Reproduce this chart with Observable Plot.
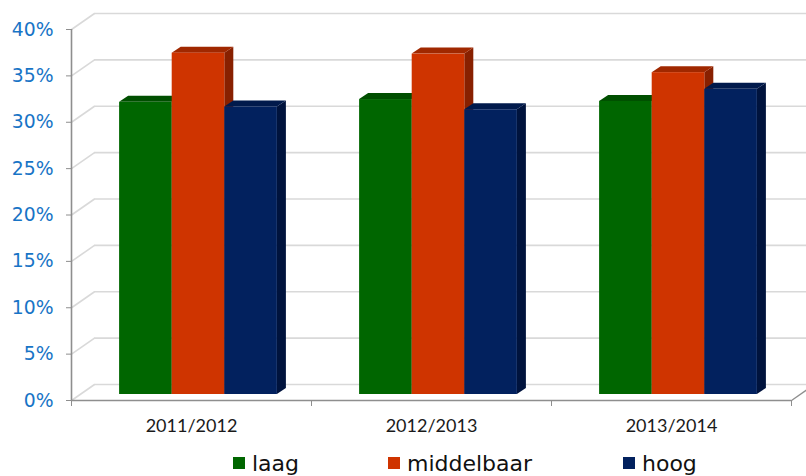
<!DOCTYPE html>
<html>
<head>
<meta charset="utf-8">
<script src="https://cdn.jsdelivr.net/npm/d3@7"></script>
<script src="https://cdn.jsdelivr.net/npm/@observablehq/plot@0.6"></script>
<style>
  html, body { margin: 0; padding: 0; background: #fff; }
  #chart { width: 806px; }
  #legend { position: relative; height: 36px; width: 806px; font-family: "DejaVu Sans", Verdana, sans-serif; font-size: 22px; color: #111; }
  #legend .item { position: absolute; top: 0; display: flex; align-items: center; height: 36px; padding-top: 10px; box-sizing: border-box; }
  #legend .sw { width: 12px; height: 12px; margin-right: 7px; }
</style>
</head>
<body>
<div id="chart"></div>
<div id="legend"></div>
<script>
// ---- data ----
const categories = ["2011/2012", "2012/2013", "2013/2014"];
const seriesNames = ["laag", "middelbaar", "hoog"];
const laag = [0.315, 0.318, 0.316];
const middelbaar = [0.368, 0.367, 0.347];
const hoog = [0.310, 0.307, 0.329];
const yTicks = [0, 0.05, 0.10, 0.15, 0.20, 0.25, 0.30, 0.35, 0.40];

// ---- styles ----
const frontColors = ["#006600", "#cf3400", "#02215e"];
const topColors = ["#004f00", "#a02800", "#011a4c"];
const sideColors = ["#003f00", "#882000", "#00133d"];
const legendLeft = [233, 388, 623];

const W = 806, H = 440, ML = 71, MR = 15, MT = 29, MB = 40;
const pxPerX = (W - ML - MR) / categories.length;
const pxPerY = (H - MT - MB) / 0.4;
const wall = {dx: 23, dy: 16};      // back wall offset (px)
const plane = {dx: 7, dy: 6};       // bar front plane offset (px)
const depth = {dx: 9, dy: 6};       // bar depth (px)
const bw = 52.6 / pxPerX;           // bar width in x units
const off = (1 - 3 * bw) / 2;

const values = [laag, middelbaar, hoog];
const rows = [];
categories.forEach((c, i) => {
  values.forEach((arr, j) => {
    const x1 = i + off + j * bw;
    rows.push({i, j, v: arr[i], x1, x2: x1 + bw});
  });
});
const ddx = depth.dx / pxPerX, ddy = depth.dy / pxPerY;
const topPts = [], sidePts = [];
rows.forEach((r, k) => {
  topPts.push(
    {id: k, j: r.j, x: r.x1, y1: r.v, y2: r.v},
    {id: k, j: r.j, x: r.x1 + ddx, y1: r.v, y2: r.v + ddy},
    {id: k, j: r.j, x: r.x2, y1: r.v, y2: r.v + ddy},
    {id: k, j: r.j, x: r.x2 + ddx, y1: r.v + ddy, y2: r.v + ddy}
  );
  sidePts.push(
    {id: k, j: r.j, x: r.x2, y1: 0, y2: r.v},
    {id: k, j: r.j, x: r.x2 + ddx, y1: ddy, y2: r.v + ddy}
  );
});

const wdx = wall.dx / pxPerX, wdy = wall.dy / pxPerY;
const sideWall = yTicks.map(t => ({x1: 0, y1: t, x2: wdx, y2: t + wdy}));
const grid = "#d9d9d9", axisGray = "#8e8e8e";

const marks = [
  // back wall gridlines
  Plot.ruleY(yTicks, {stroke: grid, strokeWidth: 1.6, dx: wall.dx, dy: -wall.dy}),
  // side wall diagonals
  Plot.link(sideWall, {x1: "x1", y1: "y1", x2: "x2", y2: "y2", stroke: grid, strokeWidth: 1.6}),
  // floor right edge
  Plot.link([{x1: categories.length, y1: 0, x2: categories.length + wdx, y2: wdy}], {x1: "x1", y1: "y1", x2: "x2", y2: "y2", stroke: axisGray, strokeWidth: 1.3})
];
for (let j = 0; j < 3; j++) {
  marks.push(Plot.areaY(sidePts.filter(d => d.j === j), {x: "x", y1: "y1", y2: "y2", z: "id", fill: sideColors[j], dx: plane.dx, dy: -plane.dy}));
}
for (let j = 0; j < 3; j++) {
  marks.push(Plot.areaY(topPts.filter(d => d.j === j), {x: "x", y1: "y1", y2: "y2", z: "id", fill: topColors[j], dx: plane.dx, dy: -plane.dy}));
}
for (let j = 0; j < 3; j++) {
  marks.push(Plot.rectY(rows.filter(d => d.j === j), {x1: "x1", x2: "x2", y1: 0, y2: "v", fill: frontColors[j], dx: plane.dx, dy: -plane.dy}));
}
marks.push(
  Plot.ruleX([0], {stroke: axisGray, strokeWidth: 1.6}),
  Plot.ruleY([0], {stroke: axisGray, strokeWidth: 1.6}),
  Plot.axisY({ticks: yTicks, tickFormat: d => Math.round(d * 100) + "%", tickSize: 5, tickPadding: 13,
    stroke: axisGray, fill: "#1874c6", fontSize: 18.8, fontFamily: "DejaVu Sans, Verdana, sans-serif"}),
  Plot.axisX({ticks: d3.range(categories.length + 1), tickSize: 6, tickFormat: () => "", stroke: axisGray}),
  Plot.text(categories.map((c, i) => ({x: i + 0.5, c})), {x: "x", y: 0, text: "c", dy: 26, lineAnchor: "middle",
    fontSize: 18, fontFamily: "Lato, 'Open Sans', sans-serif", fill: "#1a1a1a"})
);

const chart = Plot.plot({
  width: W, height: H,
  marginLeft: ML, marginRight: MR, marginTop: MT, marginBottom: MB,
  x: {domain: [0, categories.length], axis: null},
  y: {domain: [0, 0.4], axis: null},
  style: {background: "#fff", overflow: "hidden"},
  marks
});
document.getElementById("chart").append(chart);

const legend = document.getElementById("legend");
seriesNames.forEach((name, j) => {
  const item = document.createElement("div");
  item.className = "item";
  item.style.left = legendLeft[j] + "px";
  const sw = document.createElement("span");
  sw.className = "sw";
  sw.style.background = frontColors[j];
  const t = document.createElement("span");
  t.textContent = name;
  item.append(sw, t);
  legend.append(item);
});
</script>
</body>
</html>
